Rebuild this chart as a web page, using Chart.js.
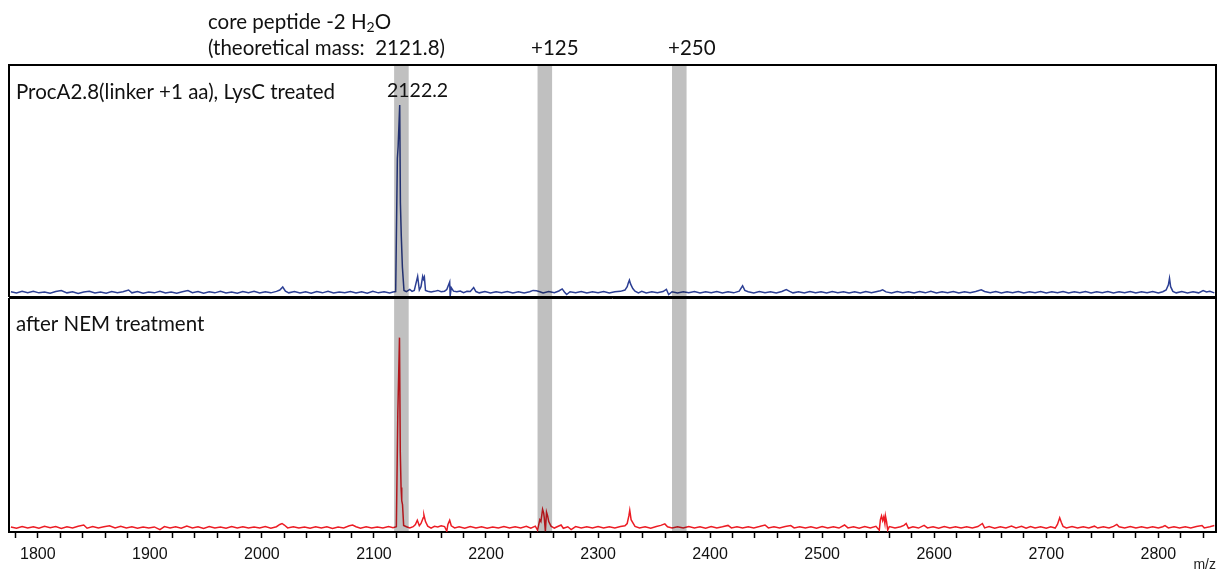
<!DOCTYPE html>
<html>
<head>
<meta charset="utf-8">
<script src="https://cdn.jsdelivr.net/npm/chart.js@4.4.1/dist/chart.umd.min.js"></script>
<style>
  html, body { margin: 0; padding: 0; background: #fff; }
  .panel { position: absolute; left: 0; width: 1221px; }
  #topPanel { top: 0; height: 298px; }
  #bottomPanel { top: 298px; height: 276px; }
</style>
</head>
<body>
<div class="panel" id="topPanel"><canvas id="topChart"></canvas></div>
<div class="panel" id="bottomPanel"><canvas id="bottomChart"></canvas></div>
<script>
// m/z window shown on the shared x axis
const mzMin = 1774.3;
const mzMax = 2851.5;

// grey highlight windows: core peptide, +125, +250
const bandStart = [2118, 2246, 2366];
const bandEnd = [2131, 2259, 2379];

// ProcA2.8 (linker +1 aa), LysC treated — m/z and relative intensity
const lyscMz = [
  1776, 1781, 1786, 1791, 1796, 1801, 1806, 1811, 1816, 1821,
  1826, 1831, 1836, 1841, 1846, 1851, 1856, 1861, 1866, 1871,
  1876, 1881, 1884, 1889, 1894, 1899, 1904, 1909, 1914, 1919,
  1924, 1929, 1934, 1938, 1943, 1948, 1953, 1958, 1963, 1968,
  1973, 1978, 1983, 1988, 1993, 1998, 2003, 2008, 2013, 2016,
  2018.6, 2021, 2024, 2029, 2034, 2039, 2044, 2049, 2054, 2059,
  2064, 2069, 2074, 2079, 2084, 2089, 2094, 2099, 2104, 2109,
  2114, 2117, 2119.4, 2120.9, 2121.6, 2123, 2123.6, 2124.4, 2125.4, 2126.8,
  2129, 2132, 2134, 2136, 2139, 2140.5, 2142, 2143.5, 2144.2, 2145,
  2146, 2148, 2151, 2154, 2157, 2160, 2163, 2165, 2167.6, 2168,
  2169, 2171, 2174, 2177, 2180, 2183, 2186, 2189, 2191, 2194,
  2199, 2204, 2209, 2214, 2219, 2224, 2229, 2234, 2239, 2242,
  2245, 2248, 2251, 2256, 2261, 2265, 2268, 2270, 2272, 2275,
  2280, 2285, 2290, 2295, 2300, 2305, 2310, 2315, 2320, 2324,
  2326, 2327, 2328, 2329, 2331, 2333, 2336, 2339, 2343, 2348,
  2353, 2358, 2361, 2363, 2366, 2371, 2376, 2381, 2386, 2391,
  2396, 2401, 2406, 2411, 2416, 2421, 2426, 2429, 2431, 2434,
  2439, 2444, 2449, 2454, 2459, 2464, 2468, 2471, 2474, 2479,
  2484, 2489, 2494, 2499, 2504, 2509, 2514, 2519, 2524, 2529,
  2534, 2539, 2544, 2549, 2552, 2554, 2557, 2562, 2567, 2572,
  2577, 2582, 2587, 2592, 2597, 2602, 2607, 2612, 2617, 2622,
  2627, 2632, 2637, 2642, 2645, 2650, 2655, 2660, 2665, 2670,
  2675, 2680, 2685, 2690, 2695, 2700, 2705, 2710, 2715, 2720,
  2725, 2730, 2735, 2740, 2745, 2750, 2755, 2760, 2765, 2770,
  2775, 2780, 2785, 2790, 2795, 2800, 2804, 2807, 2809, 2810,
  2811, 2813, 2816, 2821, 2826, 2831, 2836, 2840, 2843, 2846,
  2850
];
const lyscInt = [
  0.3, -0.4, 0.5, -0.2, 0.6, -0.3, 0.2, -0.5, 0.4, 0.9,
  -0.3, 0.3, -0.6, 0.2, 0.5, -0.4, 0.1, -0.5, 0.4, -0.2,
  0.3, 1.2, -0.3, 0.4, -0.5, 0.2, -0.3, 0.6, -0.4, 0.2,
  -0.5, 0.3, 0.9, -0.2, 0.4, -0.5, 0.3, -0.3, 0.5, -0.4,
  0.2, -0.5, 0.4, -0.2, 0.5, -0.4, 0.3, -0.3, 0.5, 1.2,
  2.8, 0.6, -0.3, 0.4, -0.4, 0.3, -0.5, 0.4, -0.3, 0.5,
  -0.4, 0.2, -0.3, 0.4, -0.4, 0.3, -0.5, 0.5, -0.3, 0.3,
  -0.4, 0.2, 0.4, 71.5, 78, 100, 48, 30, 13.4, 1,
  0.3, 1.5, 0.5, 1, 8.5, 1.2, 3, 8.5, 7, 8.2,
  1, 0.6, 0.2, 0.5, 1, 0.3, 0.6, 1.5, 5.5, -2,
  2.5, 0.6, 0.3, 0.7, -0.2, 0.5, 0.4, 2.5, 0.4, -0.3,
  0.4, -0.4, 0.3, -0.3, 0.4, -0.4, 0.3, -0.4, 0.3, 1,
  0.8, 0.3, -0.4, 0.4, -0.2, 0.7, 1.8, 0.2, -1.2, 0.3,
  -0.3, 0.4, -0.4, 0.3, -0.3, 0.4, -0.4, 0.3, 0.5, 1.2,
  3, 5, 6.5, 4.5, 2, 0.6, -0.3, 0.5, -0.4, 0.3,
  -0.3, 0.4, 1.6, -1.2, 0.3, -0.4, 0.3, -0.3, 0.4, -0.4,
  0.3, -0.3, 0.4, -0.4, 0.3, -0.3, 0.6, 3.5, 1, 0.3,
  -0.4, 0.4, -0.3, 0.3, -0.4, 0.4, 1.5, 0.5, -0.3, 0.3,
  -0.4, 0.4, -0.3, 0.3, -0.4, 0.4, -0.3, 0.3, -0.4, 0.3,
  -0.4, 0.4, -0.3, 0.4, 0.8, 1.3, 0.2, -0.4, 0.4, -0.3,
  0.3, -0.4, 0.4, -0.3, 0.5, -0.4, 0.3, -0.3, 0.4, -0.4,
  0.3, -0.3, 0.4, 1.3, 0.4, -0.3, 0.4, -0.4, 0.3, -0.3,
  0.4, -0.4, 0.3, -0.3, 0.4, -0.4, 0.3, -0.3, 0.4, -0.4,
  0.3, -0.3, 0.4, -0.4, 0.3, -0.3, 0.4, -0.4, 0.3, -0.3,
  0.4, -0.4, 0.3, -0.3, 0.4, -0.4, 0.3, 1.2, 4, 7.5,
  3, 0.5, -0.3, 0.4, -0.4, 0.3, -0.3, 0.9, 0.2, 0.5,
  -0.3
];

// after NEM treatment — m/z and relative intensity
const nemMz = [
  1776, 1781, 1786, 1791, 1796, 1801, 1806, 1811, 1816, 1821,
  1826, 1831, 1836, 1841, 1844, 1849, 1854, 1859, 1864, 1869,
  1874, 1879, 1884, 1889, 1894, 1899, 1904, 1909, 1913, 1918,
  1923, 1928, 1933, 1938, 1943, 1948, 1953, 1958, 1963, 1968,
  1973, 1978, 1983, 1988, 1993, 1998, 2003, 2008, 2013, 2016,
  2018, 2020, 2023, 2028, 2033, 2038, 2043, 2048, 2053, 2058,
  2063, 2068, 2073, 2078, 2081, 2084, 2088, 2093, 2098, 2103,
  2108, 2113, 2117, 2120, 2121.3, 2122.8, 2123.5, 2124.2, 2124.8, 2125.5,
  2126.5, 2129, 2132, 2135, 2137, 2138.7, 2140.5, 2142, 2144, 2144.6,
  2146, 2148, 2151, 2154, 2157, 2160, 2163, 2165, 2166, 2167.6,
  2169, 2172, 2176, 2181, 2186, 2191, 2196, 2201, 2206, 2211,
  2216, 2221, 2226, 2231, 2236, 2240, 2244, 2246, 2248, 2249,
  2250.5, 2251.5, 2252, 2253, 2254, 2255, 2256, 2258, 2261, 2264,
  2267, 2269, 2273, 2276, 2280, 2285, 2290, 2295, 2300, 2305,
  2310, 2315, 2320, 2324, 2326, 2327.5, 2328.3, 2329.5, 2331, 2333,
  2337, 2342, 2347, 2352, 2356, 2359.6, 2362, 2366, 2371, 2376,
  2381, 2386, 2391, 2396, 2401, 2406, 2411, 2416, 2419, 2424,
  2429, 2434, 2439, 2444, 2449, 2452, 2457, 2462, 2467, 2472,
  2475, 2480, 2485, 2490, 2495, 2500, 2505, 2510, 2515, 2520,
  2523, 2528, 2533, 2538, 2543, 2548, 2551, 2552, 2553, 2554,
  2555, 2556, 2556.5, 2557.5, 2558.5, 2560, 2565, 2570, 2573, 2575,
  2577, 2581, 2586, 2591, 2594, 2599, 2604, 2609, 2614, 2619,
  2624, 2629, 2634, 2639, 2643, 2645, 2649, 2654, 2659, 2664,
  2669, 2673, 2678, 2682, 2686, 2690, 2695, 2700, 2704, 2708,
  2710, 2712, 2713.5, 2715, 2718, 2723, 2728, 2733, 2738, 2743,
  2746, 2751, 2756, 2760, 2763, 2765, 2770, 2775, 2780, 2785,
  2790, 2795, 2800, 2804, 2806, 2809, 2814, 2819, 2824, 2829,
  2834, 2839, 2841, 2846, 2850
];
const nemInt = [
  0.2, -0.5, 0.4, -0.3, 0.3, -0.5, 0.5, -0.2, 0.4, -0.6,
  0.3, -0.3, 0.6, 1.2, -0.5, 0.4, -0.4, 0.3, 0.8, -0.4,
  0.5, -0.3, 0.3, -0.5, 0.2, -0.3, 0.2, -1.2, 0.4, -0.3,
  0.3, -0.5, 0.7, -0.3, 0.3, -0.6, 0.4, -0.3, 0.2, -0.5,
  0.4, -0.3, 0.3, -0.4, 0.2, -0.3, 0.4, -0.5, 0.3, 1.5,
  2, 1.2, -0.3, 0.3, -0.4, 0.2, -0.5, 0.3, -0.4, 0.3,
  -0.6, 0.2, -0.3, 0.8, 1.2, 0.3, -0.5, 0.3, -0.4, 0.2,
  -0.3, 0.4, -0.2, 0.3, 60, 100, 40, 21, 14, 12,
  1, 0.3, -0.4, 0.3, 1.5, 3.7, 0.8, 2, 5, 6.5,
  3, 0.6, -0.4, 0.5, 0.2, 0.8, 0.4, -2, 1.5, 3.7,
  0.8, -0.3, 0.3, -0.5, 0.4, -0.3, 0.3, -0.5, 0.2, -0.3,
  0.4, -0.4, 0.3, -0.3, 0.5, -0.5, 0.6, -1.5, 4, 3,
  9.5, 7.5, 5, -2, 8, 6, 3, 0.6, -0.4, 0.4,
  1.2, -0.5, 0.3, -1.2, 0.4, -0.4, 0.3, -0.3, 0.4, -0.4,
  0.3, -0.3, 0.4, 0.8, 2, 6, 9, 4, 2.5, 0.5,
  -0.3, 0.3, -0.5, 0.4, 1, 1.8, 0.3, -0.3, 0.3, -0.4,
  0.4, -0.3, 0.3, -0.5, 0.4, -0.3, 0.3, 1, -0.3, 0.3,
  -0.4, 0.3, -0.3, 0.4, 1.2, -0.3, 0.3, -0.4, 0.4, 0.9,
  -0.3, 0.3, -0.4, 0.3, -0.5, 0.4, -0.3, 0.3, -0.4, 1.2,
  -0.3, 0.3, -0.5, 0.4, -0.3, 0.5, -1.5, 4, 6, 3.5,
  5.5, 2, 6, 3, -1.5, 0.4, -0.3, 0.3, 1, 2,
  -0.5, 0.3, -0.4, 1, -0.3, 0.3, -0.5, 0.4, -0.3, 0.3,
  -0.4, 0.3, -0.3, 0.4, 2, -0.3, 0.4, -0.5, 0.3, -0.4,
  0.6, -0.3, 0.5, -0.5, 0.4, -0.4, 0.3, -0.5, 0.3, -0.4,
  1.5, 5, 2.5, 0.5, -0.3, 0.4, -0.4, 0.3, -0.3, 0.6,
  -0.4, 0.3, -0.3, 0.5, 1.5, 0.3, -0.3, 0.4, -0.4, 0.3,
  -0.3, 0.3, -0.4, 0.3, 0.9, -0.3, 0.3, -0.4, 0.3, -0.3,
  0.4, 0.9, -0.3, 0.3, 0.9
];

const textFont = '20.5px Lato';
const numberFont = '19.5px Lato';

function toPoints(xs, ys) {
  return xs.map((x, i) => ({ x: x, y: ys[i] }));
}

// grey windows drawn over the traces with multiply so the peaks show through
const bandsPlugin = {
  id: 'bands',
  afterDatasetsDraw(chart) {
    const { ctx, chartArea, scales } = chart;
    ctx.save();
    ctx.globalCompositeOperation = 'multiply';
    ctx.fillStyle = '#c0c0c0';
    for (let i = 0; i < bandStart.length; i++) {
      const x0 = scales.x.getPixelForValue(bandStart[i]);
      const x1 = scales.x.getPixelForValue(bandEnd[i]);
      ctx.fillRect(x0, chartArea.top, x1 - x0, chartArea.bottom - chartArea.top);
    }
    ctx.restore();
  }
};

const frameTop = {
  id: 'frameTop',
  afterDraw(chart) {
    const { ctx, chartArea: a } = chart;
    ctx.save();
    ctx.strokeStyle = '#000';
    ctx.lineWidth = 2;
    ctx.beginPath();
    ctx.moveTo(a.left, a.bottom - 1);
    ctx.lineTo(a.left, a.top);
    ctx.lineTo(a.right, a.top);
    ctx.lineTo(a.right, a.bottom - 1);
    ctx.lineTo(a.left, a.bottom - 1);
    ctx.stroke();

    ctx.fillStyle = '#111';
    ctx.font = textFont;
    ctx.textBaseline = 'alphabetic';
    let x = 208;
    const s1 = 'core peptide -2 H';
    ctx.fillText(s1, x, 29);
    x += ctx.measureText(s1).width;
    ctx.font = '14px Lato';
    ctx.fillText('2', x, 32);
    x += ctx.measureText('2').width;
    ctx.font = textFont;
    ctx.fillText('O', x, 29);
    ctx.fillText('(theoretical mass:  2121.8)', 208, 55);
    ctx.fillText('+125', 531, 55);
    ctx.fillText('+250', 668, 55);
    ctx.fillText('ProcA2.8(linker +1 aa), LysC treated', 16, 99);
    ctx.font = numberFont;
    ctx.fillText('2122.2', 387, 97);
    ctx.restore();
  }
};

const frameBottom = {
  id: 'frameBottom',
  afterDraw(chart) {
    const { ctx, chartArea: a } = chart;
    ctx.save();
    ctx.strokeStyle = '#000';
    ctx.lineWidth = 2;
    ctx.beginPath();
    ctx.moveTo(a.left, a.bottom);
    ctx.lineTo(a.left, a.top);
    ctx.moveTo(a.right, a.bottom);
    ctx.lineTo(a.right, a.top);
    ctx.stroke();
    ctx.lineWidth = 1;
    ctx.beginPath();
    ctx.moveTo(a.left, 0.5);
    ctx.lineTo(a.right, 0.5);
    ctx.stroke();

    ctx.fillStyle = '#111';
    ctx.font = textFont;
    ctx.fillText('after NEM treatment', 16, 33);
    ctx.restore();
  }
};

const lineOpts = {
  borderWidth: 1.5,
  pointRadius: 0,
  tension: 0,
  fill: false
};

new Chart(document.getElementById('topChart'), {
  type: 'line',
  data: {
    datasets: [Object.assign({
      label: 'LysC treated',
      data: toPoints(lyscMz, lyscInt),
      borderColor: '#2c3f94'
    }, lineOpts)]
  },
  options: {
    responsive: true,
    maintainAspectRatio: false,
    animation: false,
    layout: { padding: { left: 9, right: 5, top: 65, bottom: 0 } },
    plugins: { legend: { display: false }, tooltip: { enabled: false } },
    scales: {
      x: { type: 'linear', min: mzMin, max: mzMax, display: false },
      y: { min: -3.05, max: 121.4, display: false }
    }
  },
  plugins: [bandsPlugin, frameTop]
});

new Chart(document.getElementById('bottomChart'), {
  type: 'line',
  data: {
    datasets: [Object.assign({
      label: 'after NEM treatment',
      data: toPoints(nemMz, nemInt),
      borderColor: '#ec1c24'
    }, lineOpts)]
  },
  options: {
    responsive: true,
    maintainAspectRatio: false,
    animation: false,
    layout: { padding: { left: 9, right: 5, top: 0, bottom: 0 } },
    plugins: { legend: { display: false }, tooltip: { enabled: false } },
    scales: {
      x: {
        type: 'linear',
        min: mzMin,
        max: mzMax,
        afterFit(scale) { scale.height = 42; },
        border: { display: true, color: '#000', width: 2 },
        grid: {
          drawOnChartArea: false,
          drawTicks: true,
          tickLength: 6,
          tickColor: '#000',
          tickWidth: 1.5
        },
        ticks: {
          stepSize: 20,
          autoSkip: false,
          includeBounds: false,
          maxRotation: 0,
          padding: 7,
          color: '#111',
          font: { family: '"Liberation Sans", Arial, sans-serif', size: 16 },
          callback: (v) => (v % 100 === 0 ? String(v) : '')
        },
        title: {
          display: true,
          text: 'm/z',
          align: 'end',
          color: '#222',
          padding: { top: 0, bottom: 0 },
          font: { family: '"Liberation Sans", Arial, sans-serif', size: 14 }
        }
      },
      y: { min: -2.48, max: 120.9, display: false }
    }
  },
  plugins: [bandsPlugin, frameBottom]
});
</script>
</body>
</html>
